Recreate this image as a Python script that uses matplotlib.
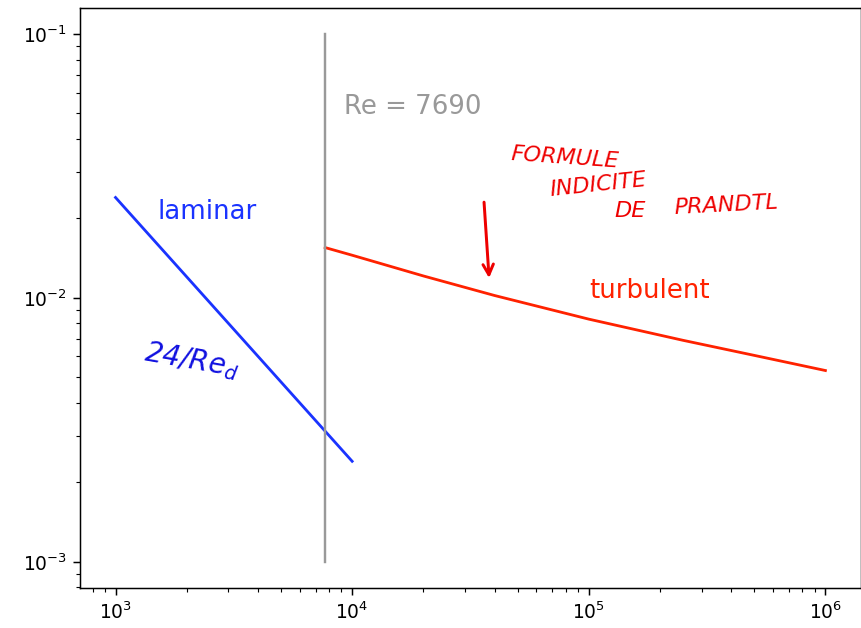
import numpy as np
import matplotlib
matplotlib.use('Agg')
import matplotlib.pyplot as plt

# data
re_crit = 7690
re_lam = [1e3, 1e4]
f_lam = [0.024, 0.0024]                     # 24/Re
re_turb = [7690, 1e4, 2e4, 4e4, 1e5, 2.5e5, 5e5, 1e6]
f_turb = [0.0155, 0.0145, 0.0121, 0.0102, 0.0083, 0.0069, 0.00605, 0.0053]
crit_y = [1e-3, 1e-1]

blue = '#1a33ff'
red = '#ff2200'
grey = '#999999'
hand_red = '#ee0000'
hand_blue = '#1010e0'

DPI = 134
fig = plt.figure(figsize=(861.4 / DPI, 628.4 / DPI), dpi=DPI)
ax = fig.add_axes([80 / 861, 1 - 588 / 628, 780.5 / 861, 580 / 628])

ax.loglog(re_lam, f_lam, color=blue)
ax.loglog(re_turb, f_turb, color=red)
ax.loglog([re_crit, re_crit], crit_y, color=grey, lw=1.3)

ax.text(1500, 0.02, 'laminar', color=blue, fontsize=14)
ax.text(re_crit * 1.2, 0.05, 'Re = 7690', color=grey, fontsize=14)
ax.text(1e5, 0.01, 'turbulent', color=red, fontsize=14)

# handwritten notes
hw = dict(style='italic', fontsize=12, ha='center', va='center')
ax.text(7.9e4, 0.034, 'FORMULE', color=hand_red, rotation=-4, **hw)
ax.text(1.1e5, 0.0269, 'INDICITE', color=hand_red, rotation=6, **hw)
ax.text(1.5e5, 0.0214, 'DE', color=hand_red, **hw)
ax.text(3.8e5, 0.0225, 'PRANDTL', color=hand_red, rotation=3, **hw)
ax.annotate('', xy=(3.8e4, 0.0115), xytext=(3.6e4, 0.0238),
            xycoords='data', textcoords='data',
            arrowprops=dict(arrowstyle='->', color=hand_red, lw=1.6,
                            mutation_scale=14))
ax.text(2100, 0.0058, r'24/$Re_d$', color=hand_blue, style='italic',
        fontsize=15, ha='center', va='center', rotation=-10)

fig.savefig('out.png', dpi=DPI)
